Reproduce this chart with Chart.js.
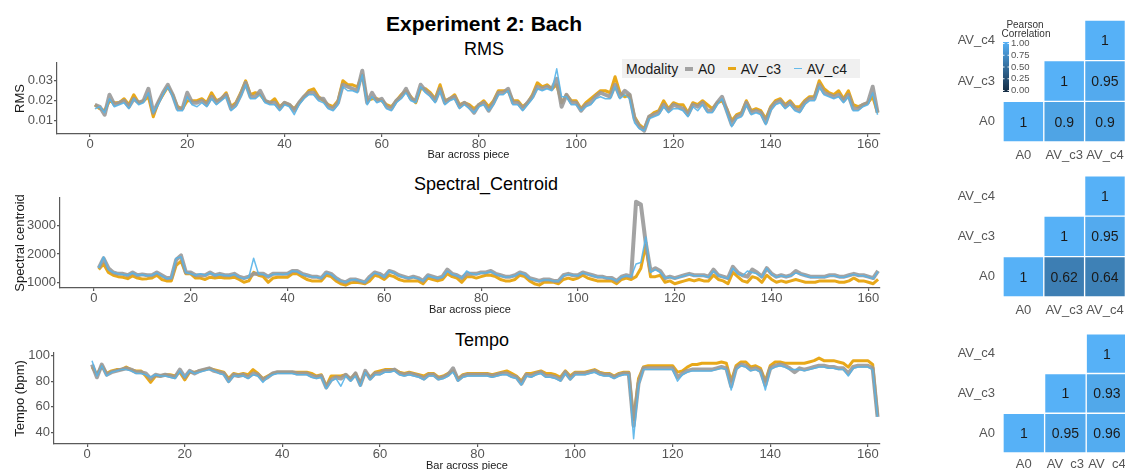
<!DOCTYPE html>
<html>
<head>
<meta charset="utf-8">
<script src="https://cdn.jsdelivr.net/npm/chart.js@4.4.1/dist/chart.umd.min.js"></script>
<style>
  body { margin: 0; background: #fff; font-family: "Liberation Sans", Arial, sans-serif; }
  #wrap { position: relative; width: 1125px; height: 470px; overflow: hidden; background: #fff; }
  canvas { position: absolute; }
  .ttl { position: absolute; transform: translate(-50%, -50%); white-space: nowrap; color: #000; }
  #legend { position: absolute; left: 622px; top: 59px; height: 19px; width: 238px; background: #f0f0f0;
            display: flex; align-items: center; padding-left: 4px; box-sizing: border-box;
            font-size: 14px; color: #1a1a1a; white-space: nowrap; }
  #legend .key { width: 12px; display: inline-block; }
</style>
</head>
<body>
<div id="wrap">
  <div class="ttl" style="left:484px;top:24px;font-size:21px;font-weight:bold">Experiment 2: Bach</div>
  <div class="ttl" style="left:484px;top:49px;font-size:18px">RMS</div>
  <div class="ttl" style="left:486px;top:184px;font-size:18px">Spectral_Centroid</div>
  <div class="ttl" style="left:482px;top:340px;font-size:18px">Tempo</div>

  <canvas id="rms" width="885" height="162" style="left:0;top:0"></canvas>
  <canvas id="spec" width="885" height="157" style="left:0;top:160px"></canvas>
  <canvas id="tempo" width="885" height="156" style="left:0;top:317px"></canvas>

  <canvas id="hmRms" width="210" height="170" style="left:920px;top:0"></canvas>
  <canvas id="hmSpec" width="210" height="165" style="left:920px;top:160px"></canvas>
  <canvas id="hmTempo" width="210" height="155" style="left:920px;top:318px"></canvas>

  <div id="legend"></div>
</div>

<script>
// categories
const modalities = ['A0', 'AV_c3', 'AV_c4'];
const bars = Array.from({length: 162}, (_, i) => i + 1);

// tick labels
const xTicks = [0, 20, 40, 60, 80, 100, 120, 140, 160];
const rmsTicks = [0.01, 0.02, 0.03];
const specTicks = [1000, 2000, 3000];
const tempoTicks = [40, 60, 80, 100];
const legendTicks = [1, 0.75, 0.5, 0.25, 0];

// RMS per bar
const rmsA0 = [
  .018,.017,.013,.023,.018,.019,.020,.017,.021,.019,
  .020,.026,.014,.019,.024,.028,.023,.016,.016,.024,
  .019,.019,.020,.018,.022,.019,.021,.023,.016,.018,
  .023,.029,.022,.022,.025,.020,.019,.019,.016,.019,
  .018,.015,.019,.022,.024,.024,.021,.021,.017,.016,
  .019,.028,.027,.026,.025,.035,.019,.024,.020,.021,
  .017,.016,.020,.022,.026,.021,.020,.028,.025,.023,
  .020,.026,.019,.021,.022,.017,.019,.017,.014,.018,
  .019,.015,.019,.024,.024,.026,.019,.019,.016,.019,
  .022,.027,.026,.027,.026,.031,.017,.023,.019,.019,
  .015,.018,.019,.022,.024,.023,.022,.028,.022,.025,
  .023,.011,.007,.005,.012,.013,.014,.018,.015,.018,
  .017,.016,.013,.018,.017,.019,.015,.015,.019,.022,
  .015,.008,.012,.013,.019,.014,.015,.014,.009,.016,
  .019,.020,.017,.019,.016,.015,.019,.021,.021,.028,
  .024,.023,.022,.023,.020,.023,.016,.016,.018,.019,
  .027,.014
];
const rmsAVc3 = [
  .018,.016,.015,.020,.019,.019,.021,.018,.023,.019,
  .020,.022,.012,.019,.023,.027,.023,.017,.016,.020,
  .020,.020,.021,.019,.024,.020,.021,.024,.017,.019,
  .024,.030,.023,.024,.023,.020,.019,.021,.017,.019,
  .018,.016,.019,.022,.025,.026,.022,.020,.018,.017,
  .020,.030,.028,.028,.027,.033,.020,.021,.021,.020,
  .018,.017,.020,.023,.025,.022,.019,.026,.026,.024,
  .021,.028,.020,.021,.023,.018,.019,.018,.016,.018,
  .020,.017,.020,.025,.025,.025,.020,.020,.017,.019,
  .023,.029,.027,.028,.026,.028,.019,.023,.020,.020,
  .016,.019,.021,.023,.025,.025,.024,.032,.024,.022,
  .023,.012,.008,.006,.012,.014,.015,.020,.016,.019,
  .018,.018,.014,.019,.018,.020,.018,.016,.019,.020,
  .016,.010,.013,.014,.020,.015,.016,.015,.011,.017,
  .020,.021,.018,.020,.017,.017,.020,.022,.022,.030,
  .026,.024,.023,.025,.021,.025,.018,.017,.018,.019,
  .022,.014
];
const rmsAVc4 = [
  .016,.017,.014,.021,.017,.018,.019,.016,.021,.018,
  .019,.024,.014,.018,.023,.027,.022,.015,.015,.022,
  .018,.017,.019,.017,.021,.018,.020,.022,.015,.017,
  .022,.028,.021,.021,.023,.019,.018,.018,.015,.018,
  .017,.013,.018,.021,.023,.023,.020,.019,.016,.015,
  .018,.027,.025,.025,.024,.033,.018,.022,.019,.020,
  .016,.015,.019,.021,.024,.020,.019,.027,.024,.022,
  .019,.025,.018,.020,.021,.016,.018,.016,.014,.017,
  .018,.015,.018,.023,.023,.025,.018,.018,.015,.018,
  .021,.026,.025,.026,.025,.036,.022,.022,.018,.018,
  .015,.017,.018,.021,.022,.021,.021,.027,.021,.023,
  .021,.009,.006,.005,.011,.012,.013,.017,.014,.016,
  .016,.015,.012,.017,.015,.018,.014,.014,.018,.021,
  .014,.007,.011,.012,.018,.013,.014,.013,.008,.015,
  .018,.019,.016,.018,.015,.014,.018,.020,.020,.027,
  .023,.022,.021,.022,.019,.022,.015,.015,.017,.018,
  .024,.013
];

// spectral centroid per bar
const specA0 = [
  1500,1850,1500,1350,1300,1300,1250,1350,1250,1280,
  1250,1250,1350,1250,1150,1150,1800,1950,1350,1350,
  1250,1250,1250,1350,1250,1300,1250,1250,1300,1200,
  1150,1200,1300,1300,1300,1200,1300,1300,1300,1300,
  1400,1400,1300,1250,1200,1200,1150,1350,1300,1150,
  1050,1000,1100,1100,1050,1000,1200,1350,1300,1200,
  1400,1350,1250,1200,1150,1200,1150,1050,1250,1200,
  1150,1200,1450,1300,1250,1150,1300,1300,1300,1350,
  1350,1400,1300,1250,1200,1200,1250,1350,1300,1150,
  1100,1050,1100,1100,1050,1050,1250,1300,1250,1250,
  1350,1300,1250,1200,1200,1150,1150,1050,1200,1250,
  1200,3850,3750,2400,1400,1500,1400,1150,1200,1150,
  1200,1250,1300,1250,1250,1250,1200,1450,1250,1200,
  1150,1550,1350,1250,1200,1450,1350,1200,1500,1300,
  1200,1250,1200,1250,1400,1300,1250,1200,1200,1200,
  1200,1250,1250,1200,1200,1250,1300,1250,1250,1200,
  1150,1400
];
const specAVc3 = [
  1450,1650,1350,1250,1200,1180,1130,1230,1150,1120,
  1130,1150,1250,1100,1050,1050,1600,1750,1300,1300,
  1150,1150,1100,1180,1150,1180,1150,1150,1180,1100,
  1000,1050,1350,1250,1200,1000,1150,1180,1180,1180,
  1300,1300,1200,1100,1050,1050,1050,1250,1200,1050,
  950,900,980,1000,980,950,1050,1250,1200,1100,
  1250,1200,1100,1050,1050,1050,1050,950,1150,1100,
  1050,1100,1300,1200,1150,1000,1200,1200,1150,1200,
  1250,1250,1200,1100,1050,1050,1100,1250,1200,1050,
  950,900,1000,1000,1000,950,1100,1150,1100,1150,
  1250,1150,1100,1050,1050,1050,1050,950,1100,1150,
  1100,1200,1500,2300,1200,1200,1250,1000,1050,950,
  1000,1050,1100,1050,1100,1050,1050,1250,1100,1050,
  950,1350,1200,1050,1000,1200,1150,1000,1250,1100,
  1000,1050,1000,1050,1100,1050,1000,1000,1000,1050,
  1050,1050,1050,1000,1000,1050,1150,1050,1050,1000,
  950,1100
];
const specAVc4 = [
  1500,1900,1450,1350,1300,1280,1250,1330,1250,1270,
  1230,1250,1330,1230,1130,1150,1850,1900,1350,1300,
  1250,1300,1250,1330,1250,1280,1250,1230,1280,1180,
  1130,1180,1850,1300,1280,1200,1280,1300,1280,1300,
  1400,1380,1280,1230,1200,1180,1150,1330,1280,1150,
  1050,1000,1080,1100,1050,1000,1180,1330,1280,1180,
  1400,1330,1230,1180,1150,1180,1130,1050,1230,1180,
  1150,1180,1400,1280,1230,1150,1400,1300,1280,1330,
  1330,1380,1280,1230,1180,1200,1230,1330,1280,1130,
  1080,1050,1080,1080,1050,1050,1230,1280,1250,1230,
  1330,1280,1230,1180,1180,1150,1130,1050,1180,1230,
  1200,1650,1700,2600,1350,1450,1350,1150,1180,1130,
  1180,1230,1280,1230,1230,1230,1180,1400,1230,1180,
  1130,1500,1300,1230,1400,1350,1300,1180,1500,1280,
  1180,1230,1200,1230,1330,1280,1230,1180,1180,1180,
  1180,1230,1230,1180,1180,1230,1280,1230,1230,1180,
  1130,1380
];

// tempo per bar
const tempoA0 = [
  93,83,93,85,87,88,89,90,89,87,
  87,86,82,85,84,85,84,83,89,83,
  88,86,88,89,90,88,87,86,80,85,
  84,85,83,86,85,81,83,86,87,87,
  87,87,86,86,86,84,83,84,75,81,
  83,82,85,81,86,77,88,82,86,86,
  88,88,89,86,85,86,85,84,82,85,
  85,82,83,85,90,81,84,85,85,85,
  85,85,84,85,86,86,84,83,78,85,
  84,86,87,84,84,83,81,87,82,86,
  86,86,87,88,86,85,85,83,85,86,
  86,45,78,90,90,90,90,90,90,90,
  83,86,88,89,89,89,89,89,90,91,
  90,76,90,93,92,89,90,88,77,90,
  92,93,92,90,87,90,89,90,91,92,
  92,91,91,90,90,86,91,92,92,92,
  90,52
];
const tempoAVc3 = [
  91,85,92,86,88,89,89,91,89,88,
  88,84,79,84,84,85,85,84,87,81,
  87,87,88,89,90,89,88,87,82,86,
  85,86,85,89,86,82,84,86,87,87,
  87,87,87,87,87,86,84,85,76,84,
  84,84,85,82,86,78,87,83,87,88,
  89,89,89,87,86,87,86,85,84,86,
  86,83,84,86,88,82,85,86,86,86,
  86,86,85,86,87,88,86,84,80,86,
  86,87,88,86,86,85,83,88,84,87,
  87,87,88,89,87,86,86,84,86,87,
  87,50,82,91,92,92,92,92,92,92,
  87,88,91,93,93,94,94,94,94,95,
  94,80,92,95,95,91,92,90,80,92,
  95,95,94,94,94,94,94,95,96,98,
  96,96,96,95,94,91,96,96,96,96,
  93,53
];
const tempoAVc4 = [
  96,84,92,84,87,88,89,89,88,86,
  86,85,83,85,84,84,83,82,88,83,
  88,86,87,88,89,88,86,85,79,84,
  84,84,82,85,84,79,83,85,86,86,
  86,86,85,85,85,83,82,83,74,80,
  82,76,84,80,84,76,87,81,85,85,
  87,87,88,85,84,85,84,83,81,84,
  84,81,82,84,87,80,83,84,84,84,
  84,84,83,84,85,85,83,82,77,84,
  83,85,86,83,83,82,80,86,81,85,
  85,85,86,87,85,84,84,82,84,85,
  85,35,76,89,89,89,89,89,89,89,
  80,85,87,88,88,88,88,88,89,90,
  89,73,89,92,91,88,89,87,73,89,
  91,92,91,89,89,89,88,89,90,91,
  91,90,90,89,89,84,90,91,91,91,
  89,52
];

// Pearson correlation, rows A0 / AV_c3 / AV_c4 (lower triangle left empty)
const rmsCorr   = [[1, 0.9, 0.9],   [null, 1, 0.95], [null, null, 1]];
const specCorr  = [[1, 0.62, 0.64], [null, 1, 0.95], [null, null, 1]];
const tempoCorr = [[1, 0.95, 0.96], [null, 1, 0.93], [null, null, 1]];

const lineColors = ['rgba(153,153,153,0.9)', 'rgba(230,159,0,0.9)', 'rgba(86,180,233,0.9)'];
const lineWidths = [4, 3, 1.5];
const drawOrder = [2, 3, 1];
const axisColor = '#5a5a5a';
const tickColor = '#555';

Chart.defaults.font.family = '"Liberation Sans", Arial, sans-serif';
Chart.defaults.animation = false;

// legend for the line panels
const legendEl = document.getElementById('legend');
legendEl.innerHTML = '<span style="margin-right:7px">Modality</span>' + modalities.map((m, i) =>
  '<span class="key" style="height:' + lineWidths[i] + 'px;background:' + lineColors[i] + '"></span>' +
  '<span style="margin-left:5px;margin-right:13px">' + m + '</span>').join('');

function makeLine(id, series, o) {
  return new Chart(document.getElementById(id), {
    type: 'line',
    data: {
      datasets: modalities.map((m, i) => ({
        label: m,
        data: bars.map((b, j) => ({x: b, y: series[i][j]})),
        borderColor: lineColors[i],
        borderWidth: lineWidths[i],
        order: drawOrder[i],
        pointRadius: 0,
        tension: 0,
        borderJoinStyle: 'round'
      }))
    },
    options: {
      responsive: false,
      events: [],
      layout: {padding: {top: o.padTop, right: 5, left: 0, bottom: 0}},
      plugins: {legend: {display: false}, tooltip: {enabled: false}},
      scales: {
        x: {
          type: 'linear', min: o.xMin, max: o.xMax,
          afterBuildTicks: s => { s.ticks = xTicks.map(v => ({value: v})); },
          afterFit: s => { s.height = o.xHeight; },
          ticks: {font: {size: 13}, color: tickColor, padding: 0, maxRotation: 0, autoSkip: false,
                  callback: v => String(v)},
          grid: {drawOnChartArea: false, tickLength: 3, color: axisColor, lineWidth: 1.2},
          border: {color: axisColor, width: 1.2},
          title: {display: true, text: 'Bar across piece', font: {size: 11}, color: '#1a1a1a', padding: 0}
        },
        y: {
          min: o.yMin, max: o.yMax,
          afterBuildTicks: s => { s.ticks = o.yTicks.map(v => ({value: v})); },
          afterFit: s => { s.width = o.yWidth; },
          ticks: {font: {size: 13}, color: tickColor, padding: 1, callback: v => String(v)},
          grid: {drawOnChartArea: false, tickLength: 3, color: axisColor, lineWidth: 1.2},
          border: {color: axisColor, width: 1.2},
          title: {display: true, text: o.yTitle, font: {size: 13}, color: '#1a1a1a', padding: {top: 13, bottom: 0}}
        }
      }
    }
  });
}

makeLine('rms', [rmsA0, rmsAVc3, rmsAVc4],
  {padTop: 63, xHeight: 28, yWidth: 57, xMin: -6.8, xMax: 162.5, yMin: 0.00335, yMax: 0.0389, yTicks: rmsTicks, yTitle: 'RMS'});
makeLine('spec', [specA0, specAVc3, specAVc4],
  {padTop: 38, xHeight: 29, yWidth: 60, xMin: -7.0, xMax: 162.4, yMin: 799, yMax: 3979, yTicks: specTicks, yTitle: 'Spectral centroid'});
makeLine('tempo', [tempoA0, tempoAVc3, tempoAVc4],
  {padTop: 36, xHeight: 29, yWidth: 54, xMin: -6.8, xMax: 162.5, yMin: 30.8, yMax: 102, yTicks: tempoTicks, yTitle: 'Tempo (bpm)'});

// heatmaps ---------------------------------------------------------------
const lowCol = [19, 43, 67], highCol = [86, 177, 247];
function fillFor(v) {
  const c = lowCol.map((l, k) => Math.round(l + (highCol[k] - l) * v));
  return 'rgb(' + c.join(',') + ')';
}

const cellText = {
  id: 'cellText',
  afterDatasetsDraw(chart) {
    const ctx = chart.ctx;
    ctx.save();
    ctx.font = '14px "Liberation Sans", Arial, sans-serif';
    ctx.fillStyle = '#1a1a1a';
    ctx.textAlign = 'center';
    ctx.textBaseline = 'middle';
    chart.data.datasets.forEach((ds, i) => {
      chart.getDatasetMeta(i).data.forEach((el, j) => {
        const v = ds.corr[j];
        if (v == null) return;
        const p = el.getProps(['x', 'y', 'base'], true);
        ctx.fillText(String(v), p.x, (p.y + p.base) / 2 + 1);
      });
    });
    ctx.restore();
  }
};

const colorBar = {
  id: 'colorBar',
  afterDraw(chart) {
    if (!chart.options.plugins.colorBar.show) return;
    const ctx = chart.ctx;
    const x = chart.chartArea.left, top = chart.chartArea.top + 22, h = 50, w = 6;
    const g = ctx.createLinearGradient(0, top, 0, top + h);
    g.addColorStop(0, fillFor(1));
    g.addColorStop(1, fillFor(0));
    ctx.save();
    ctx.fillStyle = g;
    ctx.fillRect(x, top, w, h);
    ctx.font = '9.5px "Liberation Sans", Arial, sans-serif';
    ctx.textBaseline = 'middle';
    ctx.textAlign = 'left';
    legendTicks.forEach(v => {
      const y = top + 1.5 + (1 - v) * 47;
      ctx.strokeStyle = 'rgba(255,255,255,0.9)';
      ctx.lineWidth = 1;
      ctx.beginPath();
      ctx.moveTo(x, y); ctx.lineTo(x + 1.5, y);
      ctx.moveTo(x + w - 1.5, y); ctx.lineTo(x + w, y);
      ctx.stroke();
      ctx.fillStyle = '#555';
      ctx.fillText(v.toFixed(2), x + w + 2, y);
    });
    ctx.fillStyle = '#333';
    ctx.textAlign = 'center';
    ctx.font = '10px "Liberation Sans", Arial, sans-serif';
    ctx.fillText('Pearson', x + 22, chart.chartArea.top + 5);
    ctx.fillText('Correlation', x + 23, chart.chartArea.top + 14);
    ctx.restore();
  }
};

function makeHeat(id, corr, o) {
  return new Chart(document.getElementById(id), {
    type: 'bar',
    data: {
      labels: modalities,
      datasets: modalities.map((rowName, r) => ({
        label: rowName,
        corr: corr[r],
        data: corr[r].map(v => v == null ? null : [r, r + 1]),
        backgroundColor: corr[r].map(v => v == null ? 'rgba(0,0,0,0)' : fillFor(v)),
        borderColor: 'rgba(255,255,255,0.35)',
        borderWidth: 1,
        borderSkipped: false,
        grouped: false,
        barPercentage: 1,
        categoryPercentage: 1
      }))
    },
    options: {
      responsive: false,
      events: [],
      layout: {padding: {top: o.padTop, right: 2, left: 0, bottom: 0}},
      plugins: {legend: {display: false}, tooltip: {enabled: false}, colorBar: {show: o.bar}},
      scales: {
        x: {
          afterFit: s => { s.height = o.xHeight; },
          ticks: {font: {size: 13}, color: tickColor, padding: o.xPad, maxRotation: 0, autoSkip: false},
          grid: {display: false, drawTicks: false},
          border: {display: false}
        },
        y: {
          min: 0, max: 3,
          afterBuildTicks: s => { s.ticks = [0.5, 1.5, 2.5].map(v => ({value: v})); },
          afterFit: s => { s.width = 83; },
          ticks: {font: {size: 13}, color: tickColor, padding: 8, callback: v => modalities[Math.floor(v)]},
          grid: {display: false, drawTicks: false},
          border: {display: false}
        }
      }
    },
    plugins: [cellText, colorBar]
  });
}

makeHeat('hmRms', rmsCorr, {padTop: 20, xHeight: 28, xPad: 6, bar: true});
makeHeat('hmSpec', specCorr, {padTop: 15, xHeight: 28, xPad: 6, bar: false});
makeHeat('hmTempo', tempoCorr, {padTop: 12, xHeight: 20, xPad: 4, bar: false});
</script>
</body>
</html>
